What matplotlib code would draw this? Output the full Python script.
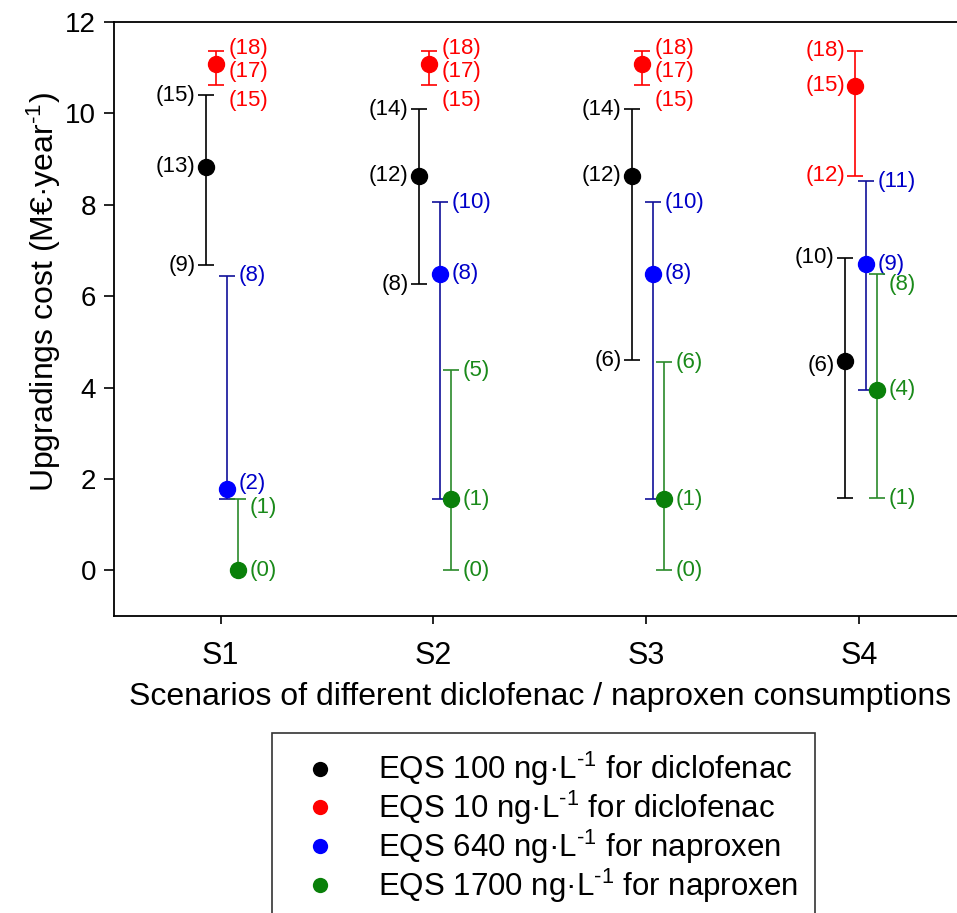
import numpy as np
import matplotlib
matplotlib.use("Agg")
import matplotlib.pyplot as plt
from matplotlib.lines import Line2D

plt.rcParams['font.family'] = ['Liberation Sans', 'DejaVu Sans']
plt.rcParams['mathtext.fontset'] = 'custom'
plt.rcParams['mathtext.rm'] = 'Liberation Sans'
plt.rcParams['mathtext.it'] = 'Liberation Sans:italic'
plt.rcParams['mathtext.default'] = 'regular'

# data (M€/year)
scenarios = ["S1", "S2", "S3", "S4"]

dic100_low = [6.68, 6.26, 4.60, 1.58]
dic100_mid = [8.83, 8.63, 8.63, 4.58]
dic100_high = [10.40, 10.09, 10.09, 6.84]
dic100_lbl = [["(9)", "(13)", "(15)"], ["(8)", "(12)", "(14)"],
              ["(6)", "(12)", "(14)"], ["", "(6)", "(10)"]]

dic10_low = [10.62, 10.62, 10.62, 8.64]
dic10_mid = [11.09, 11.09, 11.09, 10.61]
dic10_high = [11.37, 11.37, 11.37, 11.37]
dic10_lbl = [["(15)", "(17)", "(18)"], ["(15)", "(17)", "(18)"],
             ["(15)", "(17)", "(18)"], ["(12)", "(15)", "(18)"]]

nap640_low = [1.55, 1.55, 1.55, 3.95]
nap640_mid = [1.79, 6.49, 6.49, 6.70]
nap640_high = [6.45, 8.05, 8.05, 8.52]
nap640_lbl = [["", "(2)", "(8)"], ["", "(8)", "(10)"],
              ["", "(8)", "(10)"], ["", "(9)", "(11)"]]

nap1700_low = [0.0, 0.0, 0.0, 1.58]
nap1700_mid = [0.0, 1.55, 1.55, 3.95]
nap1700_high = [1.55, 4.38, 4.55, 6.48]
nap1700_lbl = [["", "(0)", "(1)"], ["(0)", "(1)", "(5)"],
               ["(0)", "(1)", "(6)"], ["(1)", "(4)", "(8)"]]

legend_labels = ["EQS 100 ng·L$^{\u20101}$ for diclofenac",
                 "EQS 10 ng·L$^{\u20101}$ for diclofenac",
                 "EQS 640 ng·L$^{\u20101}$ for naproxen",
                 "EQS 1700 ng·L$^{\u20101}$ for naproxen"]

# style: (marker colour, line colour, text colour, x offset, label side per scenario)
styles = [
    ("#000000", "#000000", "#000000", -0.07, ["l", "l", "l", "l"]),
    ("#ff0000", "#ff0000", "#ff0000", -0.02, ["r", "r", "r", "l"]),
    ("#0000ff", "#10109a", "#0000c8", 0.03, ["r", "r", "r", "r"]),
    ("#0a800a", "#2a8a2a", "#1a8a1a", 0.08, ["r", "r", "r", "r"]),
]
series = [
    (dic100_low, dic100_mid, dic100_high, dic100_lbl),
    (dic10_low, dic10_mid, dic10_high, dic10_lbl),
    (nap640_low, nap640_mid, nap640_high, nap640_lbl),
    (nap1700_low, nap1700_mid, nap1700_high, nap1700_lbl),
]
# small vertical nudges of some labels, in pixels (down positive)
nudges = {(1, 0, 0): 15, (1, 1, 0): 15, (1, 2, 0): 15,
          (1, 0, 1): 8, (1, 1, 1): 8, (1, 2, 1): 8,
          (1, 0, 2): -2, (1, 1, 2): -2, (1, 2, 2): -2,
          (2, 0, 1): -5, (3, 0, 2): 8, (3, 3, 2): 10, (0, 3, 1): 4}

fig = plt.figure(figsize=(9.57, 9.13), dpi=100)
ax = fig.add_axes([114 / 957, 1 - 616 / 913, 852 / 957, 594 / 913])

x = np.arange(1, len(scenarios) + 1)
for k, ((lo, mid, hi, lbl), (mc, lc, tc, dx, sides)) in enumerate(zip(series, styles)):
    lo, mid, hi = np.array(lo), np.array(mid), np.array(hi)
    xs = x + dx
    ax.errorbar(xs, mid, yerr=[mid - lo, hi - mid], fmt='o', color=mc,
                mec=mc, ecolor=lc, elinewidth=1.2, capsize=6, capthick=1.2,
                markersize=11.5, zorder=3)
    for j in range(len(scenarios)):
        side = sides[j]
        for i, v in enumerate([lo[j], mid[j], hi[j]]):
            t = lbl[j][i]
            if not t:
                continue
            dy = nudges.get((k, j, i), 0)
            offx = 12 if side == "r" else -10
            ax.annotate(t, xy=(xs[j], v), xytext=(offx * 0.72, -dy * 0.72),
                        textcoords='offset points', color=tc, fontsize=16,
                        ha='left' if side == "r" else 'right', va='center')

ax.set_xlim(0.5, 4.5)
ax.set_ylim(-1, 12)
ax.set_xticks(x)
ax.set_xticklabels(scenarios, fontsize=22)
ax.set_yticks(np.arange(0, 13, 2))
ax.tick_params(axis='y', labelsize=20, length=7, width=1.2, direction='out', pad=6)
ax.tick_params(axis='x', length=6, width=1.2, direction='out', pad=12)
for s in ax.spines.values():
    s.set_linewidth(1.3)

ax.set_xlabel("Scenarios of different diclofenac / naproxen consumptions",
              fontsize=23, labelpad=8)
ax.set_ylabel("Upgradings cost (M€·year$^{\u20101}$)", fontsize=23)
ax.yaxis.set_label_coords(-0.060, 0.545)

handles = [Line2D([], [], ls='none', marker='o', color=st[0], markersize=11,
                  markeredgewidth=0) for st in styles]
leg = fig.legend(handles, legend_labels, loc='upper left',
                 bbox_to_anchor=(272 / 957, 1 - 733 / 913), fontsize=22.5,
                 frameon=True, fancybox=False, edgecolor='black',
                 handletextpad=0.85, labelspacing=0.015, borderpad=0.55,
                 handlelength=2.0, borderaxespad=0)
leg.get_frame().set_linewidth(1.2)

fig.savefig("out.png", dpi=100)
